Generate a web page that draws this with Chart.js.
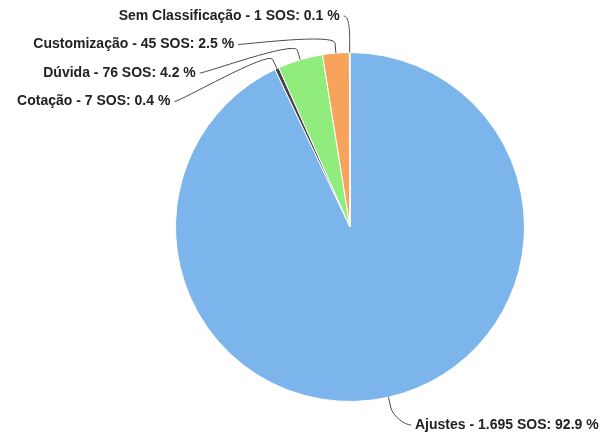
<!DOCTYPE html>
<html>
<head>
<meta charset="utf-8">
<script src="https://cdn.jsdelivr.net/npm/chart.js@4/dist/chart.umd.min.js"></script>
<style>
  html, body { margin: 0; padding: 0; background: #fff; }
  #wrap { width: 604px; height: 444px; }
</style>
</head>
<body>
<div id="wrap"><canvas id="grafico"></canvas></div>
<script>
// ===== dados =====
const categorias = ['Ajustes', 'Cotação', 'Dúvida', 'Customização', 'Sem Classificação'];
const qtdSOS = [1695, 7, 76, 45, 1];
const cores = ['#7cb5ec', '#434348', '#90ed7d', '#f7a35c', '#8085e9'];

const totalSOS = qtdSOS.reduce((a, b) => a + b, 0);

function milhar(v) {
  return String(v).replace(/\B(?=(\d{3})+(?!\d))/g, '.');
}

function textoRotulo(i) {
  const pct = (qtdSOS[i] / totalSOS * 100).toFixed(1);
  return `${categorias[i]} - ${milhar(qtdSOS[i])} SOS: ${pct} %`;
}

// ===== rótulos com conectores (estilo Highcharts) =====
const rotulosPlugin = {
  id: 'rotulos',
  afterDatasetsDraw(chart) {
    const ctx = chart.ctx;
    const meta = chart.getDatasetMeta(0);
    const alturaLinha = 28.5;
    const topo = 16;
    const base = chart.height - 19;

    const itens = meta.data.map((arc, i) => {
      const a = (arc.startAngle + arc.endAngle) / 2;
      const r = arc.outerRadius;
      const cos = Math.cos(a), sin = Math.sin(a);
      const esquerda = cos < 0;
      const R = esquerda ? 211 : 205.5;
      return {
        i, esquerda, R,
        cx: arc.x, cy: arc.y,
        p2: [arc.x + cos * r, arc.y + sin * r],
        p1: [arc.x + cos * (r + 10), arc.y + sin * (r + 10)],
        y: arc.y + sin * R
      };
    });

    // distribui verticalmente para não sobrepor
    [true, false].forEach(lado => {
      const grupo = itens.filter(o => o.esquerda === lado).sort((a, b) => a.y - b.y);
      let min = topo;
      grupo.forEach(o => {
        if (o.y < min) o.y = min;
        if (o.y > base) o.y = base;
        min = o.y + alturaLinha;
      });
    });

    ctx.save();
    ctx.font = 'bold 14px "Liberation Sans", Arial, sans-serif';
    ctx.textBaseline = 'middle';
    itens.forEach(o => {
      const dy = o.y - o.cy;
      const dx = Math.sqrt(Math.max(o.R * o.R - dy * dy, 0));
      const s = o.esquerda ? -1 : 1;
      const ax = o.cx + s * dx;

      // conector
      ctx.beginPath();
      ctx.strokeStyle = '#4a4a4a';
      ctx.lineWidth = 1;
      ctx.moveTo(ax + s * 6, o.y);
      ctx.bezierCurveTo(ax, o.y,
        2 * o.p1[0] - o.p2[0], 2 * o.p1[1] - o.p2[1],
        o.p1[0], o.p1[1]);
      ctx.lineTo(o.p2[0], o.p2[1]);
      ctx.stroke();

      // texto
      ctx.fillStyle = '#222222';
      ctx.textAlign = o.esquerda ? 'right' : 'left';
      ctx.fillText(textoRotulo(o.i), ax + s * 10, o.y);
    });
    ctx.restore();
  }
};

new Chart(document.getElementById('grafico'), {
  type: 'pie',
  data: {
    labels: categorias,
    datasets: [{
      data: qtdSOS,
      backgroundColor: cores,
      borderColor: '#ffffff',
      borderWidth: 1
    }]
  },
  options: {
    responsive: true,
    maintainAspectRatio: false,
    animation: false,
    layout: { padding: { left: 175, right: 79, top: 52, bottom: 42 } },
    plugins: {
      legend: { display: false },
      tooltip: { enabled: false }
    }
  },
  plugins: [rotulosPlugin]
});
</script>
</body>
</html>
